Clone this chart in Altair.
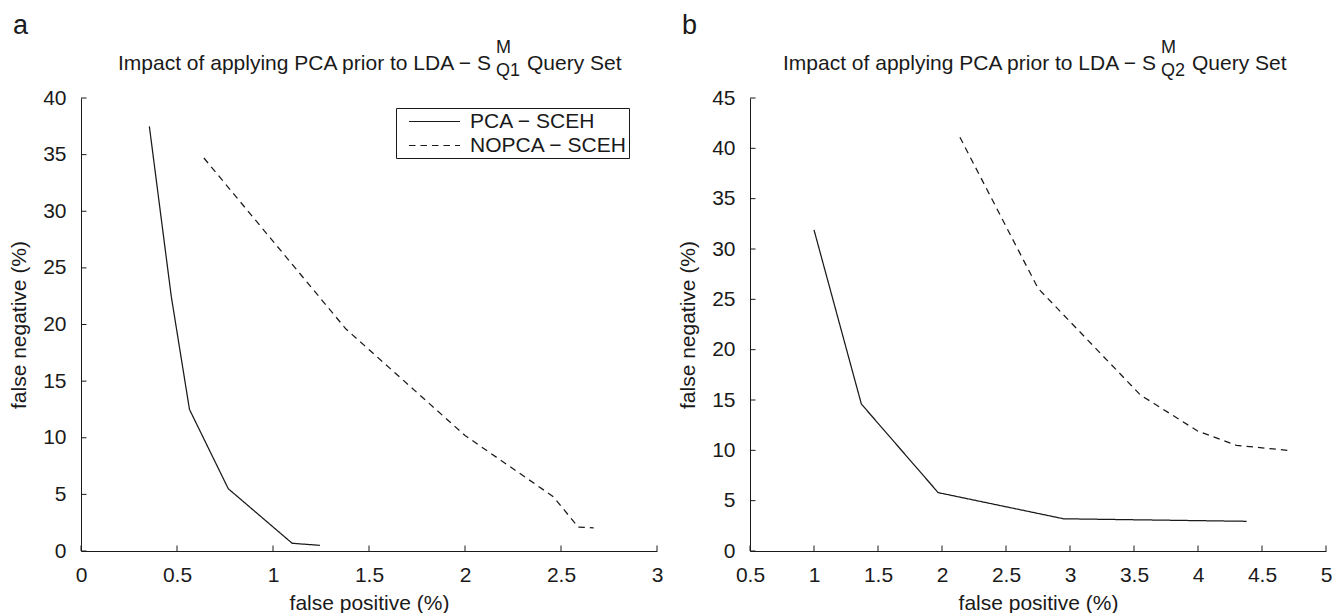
import altair as alt
import pandas as pd

FONT = "Liberation Sans"
INK = "#1a1a1a"

series_names = ["PCA \u2212 SCEH", "NOPCA \u2212 SCEH"]

# Panel a (S^M_Q1)
a_pca_fp = [0.356, 0.47, 0.565, 0.767, 1.10, 1.245]
a_pca_fn = [37.5, 22.5, 12.5, 5.5, 0.68, 0.5]
a_nopca_fp = [0.64, 1.38, 2.00, 2.46, 2.59, 2.67]
a_nopca_fn = [34.7, 19.6, 10.2, 4.8, 2.1, 2.05]

# Panel b (S^M_Q2)
b_pca_fp = [1.00, 1.37, 1.97, 2.95, 4.38]
b_pca_fn = [31.9, 14.6, 5.8, 3.2, 2.95]
b_nopca_fp = [2.14, 2.75, 3.55, 4.00, 4.30, 4.70]
b_nopca_fn = [41.1, 26.1, 15.5, 11.9, 10.5, 10.0]

a_xticks = [0, 0.5, 1, 1.5, 2, 2.5, 3]
a_yticks = [0, 5, 10, 15, 20, 25, 30, 35, 40]
b_xticks = [0.5, 1, 1.5, 2, 2.5, 3, 3.5, 4, 4.5, 5]
b_yticks = [0, 5, 10, 15, 20, 25, 30, 35, 40, 45]

x_title = "false positive (%)"
y_title = "false negative (%)"
title_main = "Impact of applying PCA prior to LDA \u2212 S"
title_sup = "M"
a_title_sub = "Q1"
b_title_sub = "Q2"
title_tail = "Query Set"

W, H = 576, 453


def txt(s, x, y, size):
    return alt.Chart(pd.DataFrame({"s": [s]})).mark_text(
        align="left", baseline="alphabetic", font=FONT, fontSize=size, color=INK
    ).encode(text="s:N", x=alt.value(x), y=alt.value(y))


def panel(pca_fp, pca_fn, nopca_fp, nopca_fn, xdom, ydom, xticks, yticks, sub, label, legend_x, tx):
    rows = []
    for i, (x, y) in enumerate(zip(pca_fp, pca_fn)):
        rows.append({"series": series_names[0], "idx": i, "fp": x, "fn": y})
    for i, (x, y) in enumerate(zip(nopca_fp, nopca_fn)):
        rows.append({"series": series_names[1], "idx": i, "fp": x, "fn": y})
    df = pd.DataFrame(rows)

    xscale = alt.Scale(domain=xdom, nice=False, zero=False)
    yscale = alt.Scale(domain=ydom, nice=False, zero=False)
    xaxis = alt.Axis(values=xticks, format="~g", labelFlush=False, labelOverlap=False)
    yaxis = alt.Axis(values=yticks, format="~g", labelFlush=False, labelOverlap=False)

    legend = alt.Legend(
        title=None, orient="none", legendX=legend_x, legendY=10, direction="vertical",
        symbolType="M-0.05,0H4.81", symbolSize=441, symbolStrokeWidth=1.2,
        symbolStrokeColor=INK, symbolFillColor="transparent", symbolOffset=0,
        labelFont=FONT, labelFontSize=21, labelColor=INK, labelOffset=49, labelLimit=400,
        padding=2, rowPadding=2, strokeColor=INK, fillColor="white",
    )

    lines = alt.Chart(df).mark_line(color=INK, strokeWidth=1.25).encode(
        x=alt.X("fp:Q", scale=xscale, axis=xaxis, title=x_title),
        y=alt.Y("fn:Q", scale=yscale, axis=yaxis, title=y_title),
        strokeDash=alt.StrokeDash(
            "series:N",
            scale=alt.Scale(domain=series_names, range=[[1, 0], [6.5, 5]]),
            legend=legend,
        ),
        order="idx:Q",
    )
    xt = alt.Chart(pd.DataFrame({"v": xticks})).mark_rule(color=INK, strokeWidth=1).encode(
        x=alt.X("v:Q", scale=xscale, axis=xaxis, title=x_title),
        y=alt.value(H), y2=alt.value(H - 5.5),
    )
    yt = alt.Chart(pd.DataFrame({"v": yticks})).mark_rule(color=INK, strokeWidth=1).encode(
        y=alt.Y("v:Q", scale=yscale, axis=yaxis, title=y_title),
        x=alt.value(0), x2=alt.value(5.5),
    )
    texts = [
        txt(title_main, tx, -28, 21),
        txt(title_sup, tx + 378, -45, 18),
        txt(sub, tx + 378, -22, 18),
        txt(title_tail, tx + 409, -28, 21),
        txt(label, -68, -64, 27),
    ]
    return alt.layer(lines, xt, yt, *texts).properties(width=W, height=H)


left = panel(a_pca_fp, a_pca_fn, a_nopca_fp, a_nopca_fn, [0, 3], [0, 40],
             a_xticks, a_yticks, a_title_sub, "a", 315, 37)
right = panel(b_pca_fp, b_pca_fn, b_nopca_fp, b_nopca_fn, [0.5, 5], [0, 45],
              b_xticks, b_yticks, b_title_sub, "b", 330, 33)

chart = alt.hconcat(left, right, spacing=93, bounds="flush").properties(
    padding={"left": 0, "top": 4, "right": 0, "bottom": 0}
).configure_view(stroke=None).configure_axis(
    domainColor=INK, domainWidth=1, ticks=False, tickSize=0, grid=False,
    labelFont=FONT, labelFontSize=21, labelColor=INK,
    titleFont=FONT, titleFontSize=21, titleFontWeight="normal", titleColor=INK,
).configure_axisX(labelPadding=13, titlePadding=7).configure_axisY(
    labelPadding=15, titlePadding=13
)

chart.save("out.html", embed_options={"renderer": "svg", "actions": False})
